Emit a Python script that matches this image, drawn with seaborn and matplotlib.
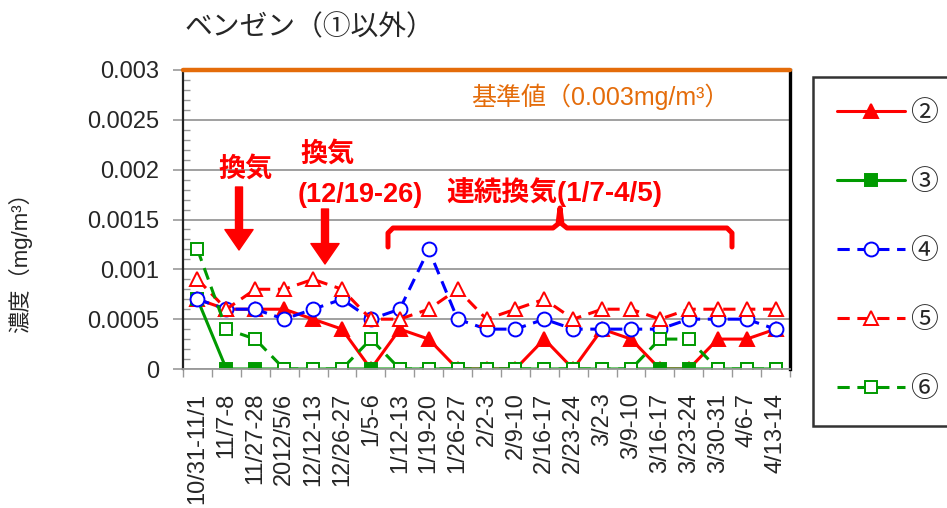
import numpy as np
import pandas as pd
import matplotlib
matplotlib.use("Agg")
import matplotlib.pyplot as plt
import seaborn as sns
from matplotlib.ticker import MultipleLocator, FixedLocator, FuncFormatter

# data
periods = ["10/31-11/1", "11/7-8", "11/27-28", "2012/5/6", "12/12-13", "12/26-27",
           "1/5-6", "1/12-13", "1/19-20", "1/26-27", "2/2-3", "2/9-10", "2/16-17",
           "2/23-24", "3/2-3", "3/9-10", "3/16-17", "3/23-24", "3/30-31", "4/6-7", "4/13-14"]
s2 = [0.0007, 0.0006, 0.0006, 0.0006, 0.0005, 0.0004, 0, 0.0004, 0.0003, 0, 0,
      0, 0.0003, 0, 0.0004, 0.0003, 0, 0, 0.0003, 0.0003, 0.0004]
s3 = [0.0007, 0, 0, 0, 0, 0, 0, 0, 0, 0, 0,
      0, 0, 0, 0, 0, 0, 0, 0, 0, 0]
s4 = [0.0007, 0.0006, 0.0006, 0.0005, 0.0006, 0.0007, 0.0005, 0.0006, 0.0012, 0.0005, 0.0004,
      0.0004, 0.0005, 0.0004, 0.0004, 0.0004, 0.0004, 0.0005, 0.0005, 0.0005, 0.0004]
s5 = [0.0009, 0.0006, 0.0008, 0.0008, 0.0009, 0.0008, 0.0005, 0.0005, 0.0006, 0.0008, 0.0005,
      0.0006, 0.0007, 0.0005, 0.0006, 0.0006, 0.0005, 0.0006, 0.0006, 0.0006, 0.0006]
s6 = [0.0012, 0.0004, 0.0003, 0, 0, 0, 0.0003, 0, 0, 0, 0,
      0, 0, 0, 0, 0, 0.0003, 0.0003, 0, 0, 0]
limit = 0.003

sns.set_theme(style="white")
plt.rcParams["font.family"] = ["Liberation Sans", "Noto Sans CJK JP"]

RED = "#FF0000"
GREEN = "#009A00"
BLUE = "#0000FF"
ORANGE = "#E46C0A"

df = pd.DataFrame({"period": periods, "s2": s2, "s3": s3, "s4": s4, "s5": s5, "s6": s6})
df["pos"] = np.arange(len(df))

fig, ax = plt.subplots(figsize=(9.47, 5.08), dpi=100)
fig.subplots_adjust(left=183 / 947, right=790 / 947, top=1 - 70 / 508, bottom=1 - 369 / 508)

dash = (0, (4, 2.5))
styles = [
    ("s2", "②", RED, "-", "^", RED),
    ("s3", "③", GREEN, "-", "s", GREEN),
    ("s4", "④", BLUE, dash, "o", "white"),
    ("s5", "⑤", RED, dash, "^", "white"),
    ("s6", "⑥", GREEN, dash, "s", "white"),
]
for col, lab, c, ls, mk, fc in styles:
    sns.lineplot(data=df, x="pos", y=col, ax=ax, color=c, linestyle=ls, lw=2.2,
                 marker=mk, markersize=10 if mk != "s" else 9, markerfacecolor=fc,
                 markeredgecolor=c, markeredgewidth=1.4, errorbar=None, label=lab)

ax.axhline(limit, color=ORANGE, lw=3.2, zorder=5, clip_on=False)

ax.set_xlim(-0.5, len(periods) - 0.5)
ax.set_ylim(0, 0.003)
ax.set_xlabel("")
ax.set_ylabel("")

ax.set_xticks(df["pos"])
ax.set_xticklabels(periods, rotation=90, fontsize=17)
ax.xaxis.set_minor_locator(FixedLocator(np.arange(-0.5, len(periods), 1)))
ax.tick_params(axis="x", which="major", length=0, pad=17)
ax.tick_params(axis="x", which="minor", length=6, width=1, color="#999999", direction="out", bottom=True)

ax.yaxis.set_major_locator(MultipleLocator(0.0005))
ax.yaxis.set_minor_locator(MultipleLocator(0.0001))
ax.yaxis.set_major_formatter(FuncFormatter(lambda v, p: f"{v:g}"))
ax.tick_params(axis="y", which="major", length=7, width=1.2, color="#999999", direction="out",
               left=True, labelsize=17, pad=10)
ax.tick_params(axis="y", which="minor", length=5, width=1, color="#999999", direction="in", left=True)

ax.grid(axis="y", which="major", color="#999999", lw=1.3)
ax.grid(axis="x", visible=False)
ax.spines["left"].set_color("#222222")
ax.spines["left"].set_linewidth(1.6)
ax.spines["right"].set_color("black")
ax.spines["right"].set_linewidth(2.4)
ax.spines["bottom"].set_color("#999999")
ax.spines["bottom"].set_linewidth(1.3)
ax.spines["top"].set_visible(False)

handles, labels = ax.get_legend_handles_labels()
leg = ax.legend(handles, labels, loc="upper left", bbox_to_anchor=(813 / 947, 1 - 77 / 508, 0.2, 0.0),
                bbox_transform=fig.transFigure, mode="expand", fontsize=20, frameon=True,
                fancybox=False, edgecolor="black", labelspacing=1.55, handlelength=2.45,
                handletextpad=0.2, borderpad=0.85, borderaxespad=0)
leg.get_frame().set_linewidth(1.8)

# annotations (axes fraction from pixel positions)
def axp(px, py):
    return ((px - 183) / 607, (369 - py) / 299)

ax.text(*axp(600, 97), "基準値（0.003mg/m³）", transform=ax.transAxes, color=ORANGE,
        fontsize=18, ha="center", va="center")
ax.text(*axp(246, 170), "換気", transform=ax.transAxes, color=RED, fontsize=19.5,
        fontweight="bold", ha="center", va="center")
ax.text(*axp(328, 155), "換気", transform=ax.transAxes, color=RED, fontsize=19.5,
        fontweight="bold", ha="center", va="center")
ax.text(*axp(360, 195), "(12/19-26)", transform=ax.transAxes, color=RED, fontsize=19.5,
        fontweight="bold", ha="center", va="center")
ax.text(*axp(554, 192), "連続換気(1/7-4/5)", transform=ax.transAxes, color=RED, fontsize=20,
        fontweight="bold", ha="center", va="center")

arrow = dict(arrowstyle="simple,head_width=1.45,head_length=1.05,tail_width=0.36",
             mutation_scale=14, color=RED, shrinkA=0, shrinkB=0)
ax.annotate("", xy=axp(239, 250), xytext=axp(239, 187), xycoords="axes fraction",
            textcoords="axes fraction", arrowprops=arrow)
ax.annotate("", xy=axp(325, 264), xytext=axp(325, 209), xycoords="axes fraction",
            textcoords="axes fraction", arrowprops=arrow)

brace_px = [(388, 247), (388, 233), (393, 228), (553, 228), (558, 224), (560, 208),
            (562, 224), (567, 228), (727, 228), (732, 233), (732, 247)]
bx, by = zip(*[axp(px, py) for px, py in brace_px])
ax.plot(bx, by, color=RED, lw=3.6, transform=ax.transAxes, clip_on=False,
        solid_joinstyle="round", zorder=6)

fig.text(185 / 947, 1 - 28 / 508, "ベンゼン（①以外）", fontsize=20, ha="left", va="center")
fig.text(20 / 947, 1 - 257 / 508, "濃度（mg/m³）", fontsize=16, rotation=90, ha="center", va="center")

fig.savefig("out.png", dpi=100)
